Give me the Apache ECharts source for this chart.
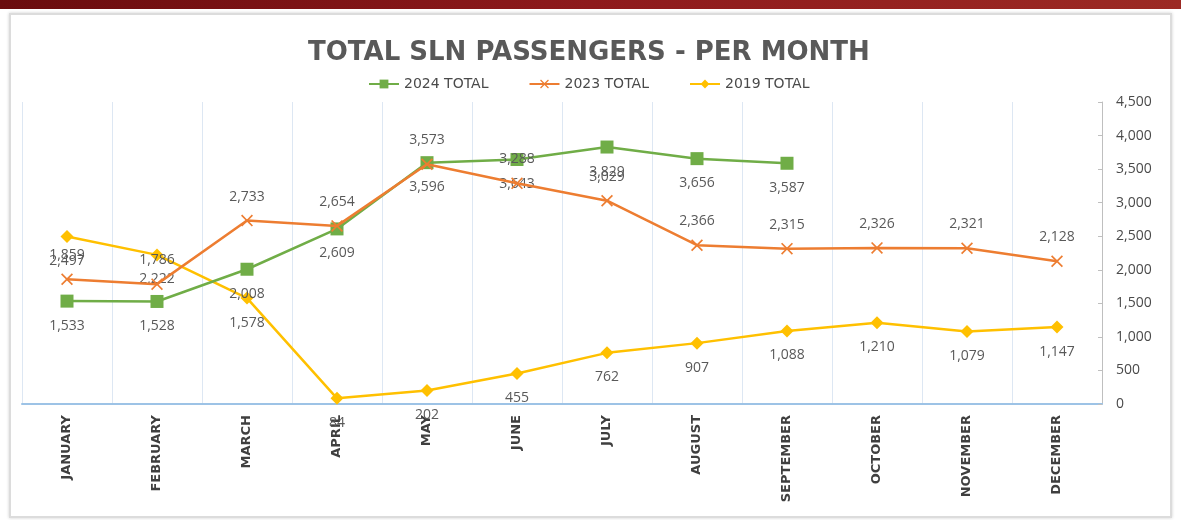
<!DOCTYPE html>
<html>
<head>
<meta charset="utf-8">
<script src="https://cdn.jsdelivr.net/npm/echarts@6/dist/echarts.min.js"></script>
<style>
  html, body { margin: 0; padding: 0; background: #fff; }
  .band { position: absolute; left: 0; top: 0; width: 1181px; height: 9px;
    background: linear-gradient(90deg, #6a0c0e, #8e1a1c 50%, #9c2a24); }
  .panel { position: absolute; left: 9px; top: 13px; width: 1159px; height: 501px;
    border: 2px solid #dcdcdc; box-shadow: 0 0 3px #cfcfcf; background: #fff; }
  #chart { position: absolute; left: 0; top: 0; width: 1181px; height: 520px; }
</style>
</head>
<body>
<div class="band"></div>
<div class="panel"></div>
<div id="chart"></div>
<script>
const months = ['JANUARY', 'FEBRUARY', 'MARCH', 'APRIL', 'MAY', 'JUNE', 'JULY',
  'AUGUST', 'SEPTEMBER', 'OCTOBER', 'NOVEMBER', 'DECEMBER']
const total2024 = [1533, 1528, 2008, 2609, 3596, 3643, 3829, 3656, 3587, null, null, null]
const total2023 = [1859, 1786, 2733, 2654, 3573, 3288, 3029, 2366, 2315, 2326, 2321, 2128]
const total2019 = [2497, 2222, 1578, 84, 202, 455, 762, 907, 1088, 1210, 1079, 1147]

const textGray = '#595959'
const fmt = (v) => Number(v).toLocaleString('en-US')
const crossPath = 'path://M0,1 L1,0 L5,4 L9,0 L10,1 L6,5 L10,9 L9,10 L5,6 L1,10 L0,9 L4,5 Z'

function seriesLabel(position) {
  return {
    show: true,
    position: position,
    distance: 11,
    color: textGray,
    fontSize: 14,
    fontFamily: 'Open Sans',
    formatter: (p) => fmt(p.value)
  }
}

const chart = echarts.init(document.getElementById('chart'))
chart.setOption({
  animation: false,
  title: {
    text: 'TOTAL SLN PASSENGERS - PER MONTH',
    left: 303,
    top: 35,
    textStyle: { color: textGray, fontSize: 26, fontWeight: 'bold', fontFamily: 'DejaVu Sans' }
  },
  legend: {
    top: 72,
    left: 363,
    itemWidth: 30,
    itemHeight: 11,
    itemGap: 40,
    textStyle: { color: '#4a4a4a', fontSize: 14, fontFamily: 'DejaVu Sans' },
    data: ['2024 TOTAL', '2023 TOTAL', '2019 TOTAL']
  },
  grid: { left: 22, right: 79, top: 102, bottom: 116 },
  xAxis: {
    type: 'category',
    data: months,
    boundaryGap: true,
    axisLine: { lineStyle: { color: '#9dc3e6', width: 2 } },
    axisTick: { show: false },
    splitLine: { show: true, lineStyle: { color: '#dde7f3', width: 1 } },
    axisLabel: {
      rotate: 90,
      margin: 11,
      interval: 0,
      color: '#3f3f3f',
      fontSize: 13,
      fontWeight: 'bold',
      fontFamily: 'DejaVu Sans'
    }
  },
  yAxis: {
    type: 'value',
    position: 'right',
    min: 0,
    max: 4500,
    interval: 500,
    axisLine: { show: true, lineStyle: { color: '#bfbfbf' } },
    axisTick: { show: true, inside: true, length: 4, lineStyle: { color: '#bfbfbf' } },
    splitLine: { show: false },
    axisLabel: {
      margin: 14,
      color: '#4a4a4a',
      fontSize: 14,
      fontFamily: 'Open Sans',
      formatter: fmt
    }
  },
  series: [
    {
      name: '2024 TOTAL',
      type: 'line',
      data: total2024,
      color: '#70ad47',
      symbol: 'rect',
      symbolSize: 13,
      lineStyle: { width: 2.5 },
      itemStyle: { color: '#70ad47' },
      label: seriesLabel('bottom'),
      z: 3
    },
    {
      name: '2023 TOTAL',
      type: 'line',
      data: total2023,
      color: '#ed7d31',
      symbol: crossPath,
      symbolSize: 12,
      lineStyle: { width: 2.5 },
      itemStyle: { color: '#ed7d31' },
      label: seriesLabel('top'),
      z: 4
    },
    {
      name: '2019 TOTAL',
      type: 'line',
      data: total2019,
      color: '#ffc000',
      symbol: 'diamond',
      symbolSize: 13,
      lineStyle: { width: 2.5 },
      itemStyle: { color: '#ffc000' },
      label: seriesLabel('bottom'),
      z: 2
    }
  ]
})
</script>
</body>
</html>
